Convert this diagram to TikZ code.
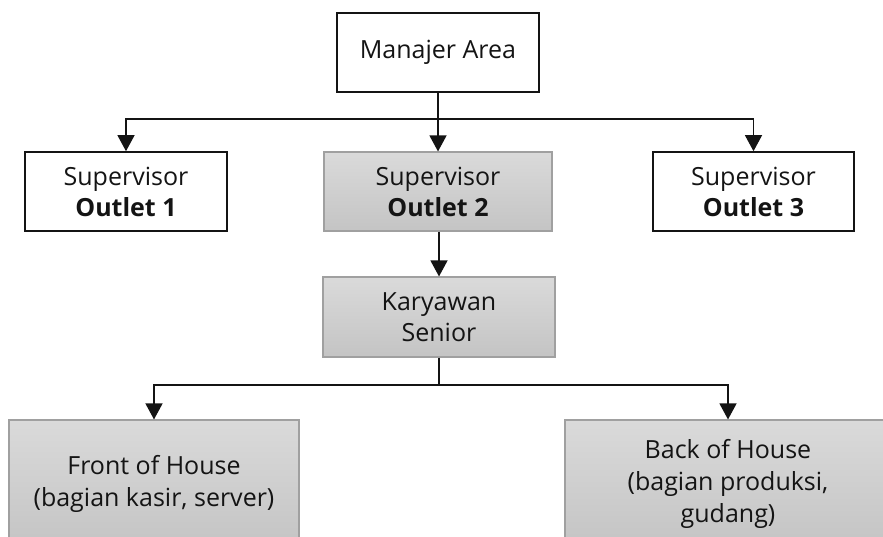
\documentclass[tikz,border=0pt]{standalone}
\usepackage{fontspec}
\setmainfont{Open Sans}
\usetikzlibrary{arrows.meta}

\definecolor{boxtop}{RGB}{218,218,218}
\definecolor{boxbot}{RGB}{196,196,196}
\definecolor{boxedge}{RGB}{160,160,160}
\definecolor{ink}{RGB}{20,20,20}

\tikzset{
  unit/.style={align=center, text=ink, inner sep=0pt,
    font=\fontsize{25pt}{31pt}\selectfont},
  whitebox/.style={unit, draw=ink, line width=1.6pt, fill=white},
  graybox/.style={unit, draw=boxedge, line width=1.1pt,
    top color=boxtop, bottom color=boxbot},
  link/.style={draw=ink, line width=1.3pt},
  arr/.style={link, -{Triangle[length=16pt,width=17pt]}}
}

\begin{document}
\begin{tikzpicture}[x=1pt, y=-1pt]
  \useasboundingbox (0,0) rectangle (883,537);
  \clip (0,0) rectangle (883,537);

  % top level
  \node[whitebox, minimum width=202pt, minimum height=79pt] (ma) at (438,52.5) {Manajer Area};

  % supervisors
  \node[whitebox, minimum width=202pt, minimum height=79pt] (s1) at (126,191.5)
    {Supervisor\\\textbf{Outlet 1}};
  \node[graybox, minimum width=228pt, minimum height=79pt] (s2) at (438,191.5)
    {Supervisor\\\textbf{Outlet 2}};
  \node[whitebox, minimum width=201pt, minimum height=79pt] (s3) at (753.5,191.5)
    {Supervisor\\\textbf{Outlet 3}};

  % senior staff
  \node[graybox, minimum width=232pt, minimum height=80pt] (ks) at (439,317)
    {Karyawan\\Senior};

  % departments
  \node[graybox, minimum width=290pt, minimum height=128pt, font=\fontsize{25pt}{32pt}\selectfont] (foh) at (154,484)
    {Front of House\\(bagian kasir, server)};
  \node[graybox, minimum width=326pt, minimum height=128pt, font=\fontsize{25pt}{32pt}\selectfont] (boh) at (728,484)
    {Back of House\\(bagian produksi,\\gudang)};

  % connectors
  \coordinate (j1) at (438,119);
  \coordinate (j2) at (439,385);

  \draw[link] (ma.south) -- (j1);
  \draw[arr] (j1) -| (s1);
  \draw[arr] (j1) -- (s2);
  \draw[arr] (j1) -| (s3);

  \draw[arr] (s2.south -| ks.north) -- (ks.north);

  \draw[link] (ks.south) -- (j2);
  \draw[arr] (j2) -| (foh);
  \draw[arr] (j2) -| (boh);
\end{tikzpicture}
\end{document}
